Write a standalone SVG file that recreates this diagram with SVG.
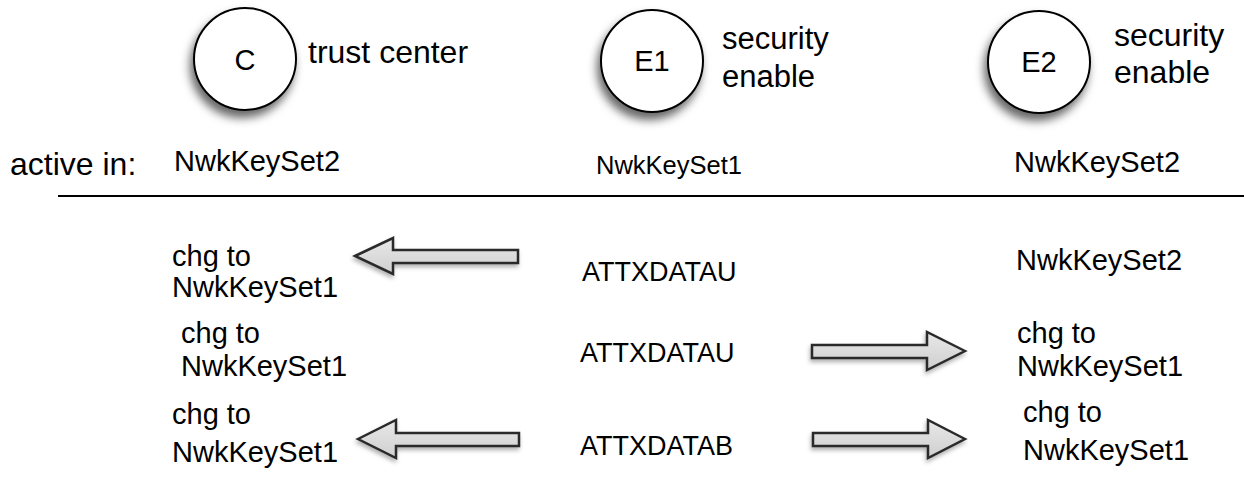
<svg xmlns="http://www.w3.org/2000/svg" width="1244" height="478" viewBox="0 0 1244 478">
  <defs>
    <filter id="nodeShadow" x="-40%" y="-40%" width="180%" height="190%">
      <feDropShadow dx="-3" dy="7" stdDeviation="5" flood-color="#000" flood-opacity="0.6"/>
    </filter>
    <filter id="arrowShadow" x="-20%" y="-50%" width="140%" height="200%">
      <feDropShadow dx="-1" dy="3" stdDeviation="2" flood-color="#000" flood-opacity="0.3"/>
    </filter>
    <linearGradient id="arrowFill" x1="0" y1="0" x2="0" y2="1">
      <stop offset="0" stop-color="#e8e8e8"/>
      <stop offset="1" stop-color="#cfcfcf"/>
    </linearGradient>
  </defs>
  <style>
    text { font-family: "Liberation Sans", Arial, Helvetica, sans-serif; font-size: 29px; fill: #000; }
    .node circle { fill: #fff; stroke: #000; stroke-width: 2; filter: url(#nodeShadow); }
    .id { text-anchor: middle; font-size: 29px; }
    .note { font-size: 31px; }
    .msg { font-size: 27px; }
    .arrow { fill: url(#arrowFill); stroke: #2a2a2a; stroke-width: 2.5; stroke-linejoin: miter; filter: url(#arrowShadow); }
  </style>

  <!-- nodes -->
  <g id="node-C" class="node">
    <circle cx="245" cy="59" r="51"/>
    <text class="id" x="245" y="70">C</text>
    <text class="note" x="308" y="63" style="font-size:32px">trust center</text>
  </g>
  <g id="node-E1" class="node">
    <circle cx="652" cy="61" r="51"/>
    <text class="id" x="652" y="71">E1</text>
    <text class="note" x="722" y="49">security</text>
    <text class="note" x="722" y="87">enable</text>
  </g>
  <g id="node-E2" class="node">
    <circle cx="1039" cy="62" r="51"/>
    <text class="id" x="1039" y="72">E2</text>
    <text class="note" x="1114" y="46" style="font-size:32px">security</text>
    <text class="note" x="1114" y="83" style="font-size:32px">enable</text>
  </g>

  <!-- active key set header -->
  <g id="header">
    <text class="note" x="10" y="175" style="font-size:32px">active in:</text>
    <text x="174" y="171">NwkKeySet2</text>
    <text x="596" y="174" style="font-size:25.5px">NwkKeySet1</text>
    <text x="1014" y="172">NwkKeySet2</text>
    <line x1="58" y1="196" x2="1244" y2="196" stroke="#000" stroke-width="2"/>
  </g>

  <!-- row labels -->
  <g id="row1">
    <text x="172" y="266">chg to</text>
    <text x="172" y="297">NwkKeySet1</text>
    <text class="msg" x="582" y="281">ATTXDATAU</text>
    <text x="1016" y="270">NwkKeySet2</text>
  </g>
  <g id="row2">
    <text x="181" y="343">chg to</text>
    <text x="181" y="376">NwkKeySet1</text>
    <text class="msg" x="580" y="362">ATTXDATAU</text>
    <text x="1017" y="343">chg to</text>
    <text x="1017" y="376">NwkKeySet1</text>
  </g>
  <g id="row3">
    <text x="172" y="424">chg to</text>
    <text x="172" y="462">NwkKeySet1</text>
    <text class="msg" x="580" y="455">ATTXDATAB</text>
    <text x="1023" y="422">chg to</text>
    <text x="1023" y="460">NwkKeySet1</text>
  </g>

  <!-- connectors -->
  <g id="connectors">
    <polygon class="arrow" points="355,256 393,238 393,250 518,250 518,263 393,263 393,274"/>
    <polygon class="arrow" points="965,351 927,332 927,345 812,345 812,358 927,358 927,370"/>
    <polygon class="arrow" points="358,439 396,420 396,433 519,433 519,446 396,446 396,458"/>
    <polygon class="arrow" points="965,439 928,420 928,433 813,433 813,446 928,446 928,458"/>
  </g>
</svg>
